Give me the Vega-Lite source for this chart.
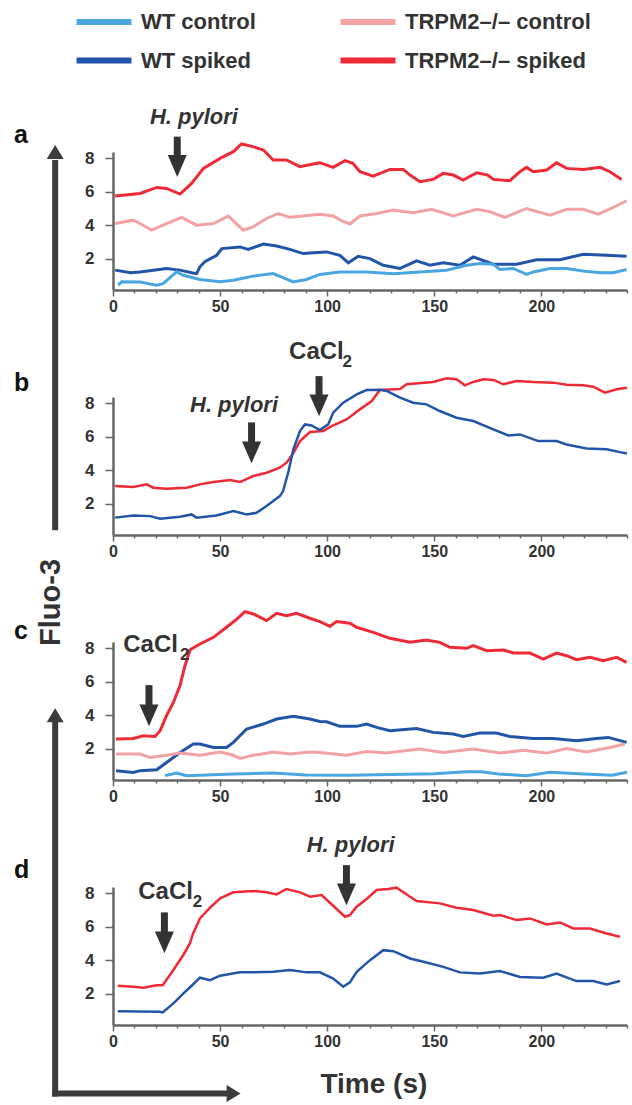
{
"$schema": "https://vega.github.io/schema/vega-lite/v6.json",
"padding": {"left": 14, "top": 5, "right": 0, "bottom": 0},
"bounds": "flush",
"spacing": 107,
"config": {
 "font": "Liberation Sans",
 "view": {"stroke": null},
 "axis": {"grid": false, "title": null, "tickCount": 100, "domainColor": "#666", "domainWidth": 2.5, "tickColor": "#666", "tickWidth": 1.5, "labelFont": "Liberation Sans", "labelFontWeight": "bold", "labelColor": "#333", "labelFlush": false, "labelOverlap": false, "labelBound": false},
 "axisX": {"labelFontSize": 16},
 "axisY": {"labelFontSize": 17, "labelPadding": 11},
 "legend": {"symbolType": "M-2,0L2,0", "symbolStrokeWidth": 6, "symbolSize": 756, "labelFontSize": 22, "labelFontWeight": "bold", "labelColor": "#333", "labelFont": "Liberation Sans", "labelOffset": 20, "labelLimit": 400, "columns": 2, "columnPadding": 72, "rowPadding": 9.5, "padding": 0, "orient": "none", "legendX": -26, "legendY": -147, "title": null}
},
"datasets": {
 "a": [
  {"time":1,"fluo":5.74,"series":"TRPM2–/– spiked"},{"time":12.6,"fluo":5.9,"series":"TRPM2–/– spiked"},{"time":20.4,"fluo":6.26,"series":"TRPM2–/– spiked"},{"time":25,"fluo":6.2,"series":"TRPM2–/– spiked"},{"time":31.3,"fluo":5.86,"series":"TRPM2–/– spiked"},{"time":36.7,"fluo":6.5,"series":"TRPM2–/– spiked"},{"time":42.2,"fluo":7.4,"series":"TRPM2–/– spiked"},{"time":50,"fluo":8.0,"series":"TRPM2–/– spiked"},{"time":56.2,"fluo":8.4,"series":"TRPM2–/– spiked"},{"time":60,"fluo":8.86,"series":"TRPM2–/– spiked"},{"time":65.4,"fluo":8.7,"series":"TRPM2–/– spiked"},{"time":70.2,"fluo":8.5,"series":"TRPM2–/– spiked"},{"time":74.8,"fluo":7.9,"series":"TRPM2–/– spiked"},{"time":81,"fluo":7.9,"series":"TRPM2–/– spiked"},{"time":87.3,"fluo":7.5,"series":"TRPM2–/– spiked"},{"time":93.5,"fluo":7.66,"series":"TRPM2–/– spiked"},{"time":96.6,"fluo":7.74,"series":"TRPM2–/– spiked"},{"time":102.8,"fluo":7.46,"series":"TRPM2–/– spiked"},{"time":108.3,"fluo":7.86,"series":"TRPM2–/– spiked"},{"time":112,"fluo":7.7,"series":"TRPM2–/– spiked"},{"time":115.3,"fluo":7.2,"series":"TRPM2–/– spiked"},{"time":121.5,"fluo":6.94,"series":"TRPM2–/– spiked"},{"time":129.3,"fluo":7.34,"series":"TRPM2–/– spiked"},{"time":135.5,"fluo":7.34,"series":"TRPM2–/– spiked"},{"time":138.7,"fluo":7.0,"series":"TRPM2–/– spiked"},{"time":143.3,"fluo":6.6,"series":"TRPM2–/– spiked"},{"time":149.5,"fluo":6.74,"series":"TRPM2–/– spiked"},{"time":154.2,"fluo":7.1,"series":"TRPM2–/– spiked"},{"time":158.9,"fluo":7.0,"series":"TRPM2–/– spiked"},{"time":163.5,"fluo":6.7,"series":"TRPM2–/– spiked"},{"time":169.8,"fluo":7.14,"series":"TRPM2–/– spiked"},{"time":175,"fluo":7.0,"series":"TRPM2–/– spiked"},{"time":177.6,"fluo":6.74,"series":"TRPM2–/– spiked"},{"time":185.3,"fluo":6.66,"series":"TRPM2–/– spiked"},{"time":190,"fluo":7.2,"series":"TRPM2–/– spiked"},{"time":193.1,"fluo":7.46,"series":"TRPM2–/– spiked"},{"time":196.2,"fluo":7.2,"series":"TRPM2–/– spiked"},{"time":202.5,"fluo":7.3,"series":"TRPM2–/– spiked"},{"time":207.1,"fluo":7.74,"series":"TRPM2–/– spiked"},{"time":211.8,"fluo":7.4,"series":"TRPM2–/– spiked"},{"time":219.6,"fluo":7.34,"series":"TRPM2–/– spiked"},{"time":227.4,"fluo":7.46,"series":"TRPM2–/– spiked"},{"time":232,"fluo":7.2,"series":"TRPM2–/– spiked"},{"time":237.5,"fluo":6.74,"series":"TRPM2–/– spiked"},
  {"time":1,"fluo":4.1,"series":"TRPM2–/– control"},{"time":9.5,"fluo":4.3,"series":"TRPM2–/– control"},{"time":12.6,"fluo":4.1,"series":"TRPM2–/– control"},{"time":18,"fluo":3.7,"series":"TRPM2–/– control"},{"time":23.4,"fluo":4.0,"series":"TRPM2–/– control"},{"time":32,"fluo":4.47,"series":"TRPM2–/– control"},{"time":39,"fluo":4.0,"series":"TRPM2–/– control"},{"time":47,"fluo":4.1,"series":"TRPM2–/– control"},{"time":53.8,"fluo":4.55,"series":"TRPM2–/– control"},{"time":60.8,"fluo":3.7,"series":"TRPM2–/– control"},{"time":65.4,"fluo":3.9,"series":"TRPM2–/– control"},{"time":71.7,"fluo":4.4,"series":"TRPM2–/– control"},{"time":77.2,"fluo":4.7,"series":"TRPM2–/– control"},{"time":82.6,"fluo":4.47,"series":"TRPM2–/– control"},{"time":88.8,"fluo":4.55,"series":"TRPM2–/– control"},{"time":96.6,"fluo":4.66,"series":"TRPM2–/– control"},{"time":102.8,"fluo":4.55,"series":"TRPM2–/– control"},{"time":106.7,"fluo":4.27,"series":"TRPM2–/– control"},{"time":110.6,"fluo":4.07,"series":"TRPM2–/– control"},{"time":115.3,"fluo":4.55,"series":"TRPM2–/– control"},{"time":123.1,"fluo":4.7,"series":"TRPM2–/– control"},{"time":130.9,"fluo":4.9,"series":"TRPM2–/– control"},{"time":140.2,"fluo":4.75,"series":"TRPM2–/– control"},{"time":148.8,"fluo":4.95,"series":"TRPM2–/– control"},{"time":158.9,"fluo":4.55,"series":"TRPM2–/– control"},{"time":169.8,"fluo":4.95,"series":"TRPM2–/– control"},{"time":176,"fluo":4.8,"series":"TRPM2–/– control"},{"time":183,"fluo":4.47,"series":"TRPM2–/– control"},{"time":193.1,"fluo":5.0,"series":"TRPM2–/– control"},{"time":204,"fluo":4.6,"series":"TRPM2–/– control"},{"time":211.8,"fluo":4.95,"series":"TRPM2–/– control"},{"time":219.6,"fluo":4.95,"series":"TRPM2–/– control"},{"time":226.6,"fluo":4.66,"series":"TRPM2–/– control"},{"time":233.6,"fluo":5.06,"series":"TRPM2–/– control"},{"time":239.8,"fluo":5.46,"series":"TRPM2–/– control"},
  {"time":1,"fluo":1.31,"series":"WT spiked"},{"time":8.2,"fluo":1.15,"series":"WT spiked"},{"time":12.6,"fluo":1.2,"series":"WT spiked"},{"time":25,"fluo":1.41,"series":"WT spiked"},{"time":31.3,"fluo":1.31,"series":"WT spiked"},{"time":36.7,"fluo":1.15,"series":"WT spiked"},{"time":39,"fluo":1.1,"series":"WT spiked"},{"time":40.6,"fluo":1.51,"series":"WT spiked"},{"time":42.9,"fluo":1.81,"series":"WT spiked"},{"time":48.4,"fluo":2.2,"series":"WT spiked"},{"time":50.8,"fluo":2.6,"series":"WT spiked"},{"time":59.3,"fluo":2.7,"series":"WT spiked"},{"time":63.1,"fluo":2.55,"series":"WT spiked"},{"time":70.2,"fluo":2.87,"series":"WT spiked"},{"time":76.4,"fluo":2.75,"series":"WT spiked"},{"time":82.6,"fluo":2.55,"series":"WT spiked"},{"time":88.8,"fluo":2.3,"series":"WT spiked"},{"time":93.5,"fluo":2.35,"series":"WT spiked"},{"time":99.7,"fluo":2.4,"series":"WT spiked"},{"time":105.9,"fluo":2.2,"series":"WT spiked"},{"time":109.9,"fluo":1.75,"series":"WT spiked"},{"time":114.5,"fluo":2.14,"series":"WT spiked"},{"time":120,"fluo":2.0,"series":"WT spiked"},{"time":126.2,"fluo":1.6,"series":"WT spiked"},{"time":134,"fluo":1.41,"series":"WT spiked"},{"time":141.8,"fluo":1.87,"series":"WT spiked"},{"time":148,"fluo":1.6,"series":"WT spiked"},{"time":154.2,"fluo":1.75,"series":"WT spiked"},{"time":162,"fluo":1.6,"series":"WT spiked"},{"time":168.2,"fluo":2.1,"series":"WT spiked"},{"time":174.4,"fluo":1.81,"series":"WT spiked"},{"time":177.5,"fluo":1.66,"series":"WT spiked"},{"time":188.5,"fluo":1.66,"series":"WT spiked"},{"time":197.8,"fluo":1.93,"series":"WT spiked"},{"time":208.7,"fluo":1.93,"series":"WT spiked"},{"time":219.6,"fluo":2.26,"series":"WT spiked"},{"time":230.5,"fluo":2.2,"series":"WT spiked"},{"time":239.8,"fluo":2.14,"series":"WT spiked"},
  {"time":2.5,"fluo":0.41,"series":"WT control"},{"time":4,"fluo":0.61,"series":"WT control"},{"time":12.6,"fluo":0.6,"series":"WT control"},{"time":20.4,"fluo":0.41,"series":"WT control"},{"time":23.4,"fluo":0.5,"series":"WT control"},{"time":29.7,"fluo":1.21,"series":"WT control"},{"time":32.8,"fluo":1.0,"series":"WT control"},{"time":40.6,"fluo":0.75,"series":"WT control"},{"time":50,"fluo":0.61,"series":"WT control"},{"time":56.2,"fluo":0.7,"series":"WT control"},{"time":65.4,"fluo":0.95,"series":"WT control"},{"time":74.8,"fluo":1.1,"series":"WT control"},{"time":79.4,"fluo":0.86,"series":"WT control"},{"time":84.1,"fluo":0.6,"series":"WT control"},{"time":90.3,"fluo":0.75,"series":"WT control"},{"time":96.6,"fluo":1.05,"series":"WT control"},{"time":105.9,"fluo":1.2,"series":"WT control"},{"time":118.4,"fluo":1.2,"series":"WT control"},{"time":130.9,"fluo":1.1,"series":"WT control"},{"time":143.3,"fluo":1.2,"series":"WT control"},{"time":155.7,"fluo":1.3,"series":"WT control"},{"time":165.1,"fluo":1.6,"series":"WT control"},{"time":171.4,"fluo":1.71,"series":"WT control"},{"time":177.6,"fluo":1.66,"series":"WT control"},{"time":180.7,"fluo":1.35,"series":"WT control"},{"time":186.9,"fluo":1.41,"series":"WT control"},{"time":193.1,"fluo":1.05,"series":"WT control"},{"time":196.2,"fluo":1.2,"series":"WT control"},{"time":204,"fluo":1.41,"series":"WT control"},{"time":211.8,"fluo":1.41,"series":"WT control"},{"time":219.6,"fluo":1.26,"series":"WT control"},{"time":227.4,"fluo":1.15,"series":"WT control"},{"time":233.6,"fluo":1.15,"series":"WT control"},{"time":239.8,"fluo":1.35,"series":"WT control"}
 ],
 "b": [
  {"time":1,"fluo":3.05,"series":"TRPM2–/– spiked"},{"time":9.5,"fluo":3.0,"series":"TRPM2–/– spiked"},{"time":15.7,"fluo":3.15,"series":"TRPM2–/– spiked"},{"time":18.8,"fluo":2.95,"series":"TRPM2–/– spiked"},{"time":25,"fluo":2.89,"series":"TRPM2–/– spiked"},{"time":34.4,"fluo":2.95,"series":"TRPM2–/– spiked"},{"time":40.6,"fluo":3.15,"series":"TRPM2–/– spiked"},{"time":46.9,"fluo":3.29,"series":"TRPM2–/– spiked"},{"time":54.7,"fluo":3.41,"series":"TRPM2–/– spiked"},{"time":59.3,"fluo":3.29,"series":"TRPM2–/– spiked"},{"time":65.5,"fluo":3.65,"series":"TRPM2–/– spiked"},{"time":71.7,"fluo":3.85,"series":"TRPM2–/– spiked"},{"time":77.9,"fluo":4.15,"series":"TRPM2–/– spiked"},{"time":81,"fluo":4.45,"series":"TRPM2–/– spiked"},{"time":84.1,"fluo":5.0,"series":"TRPM2–/– spiked"},{"time":87.3,"fluo":5.74,"series":"TRPM2–/– spiked"},{"time":92,"fluo":6.28,"series":"TRPM2–/– spiked"},{"time":98.2,"fluo":6.34,"series":"TRPM2–/– spiked"},{"time":102.1,"fluo":6.64,"series":"TRPM2–/– spiked"},{"time":109.1,"fluo":7.04,"series":"TRPM2–/– spiked"},{"time":115.3,"fluo":7.64,"series":"TRPM2–/– spiked"},{"time":120.8,"fluo":8.14,"series":"TRPM2–/– spiked"},{"time":124.6,"fluo":8.8,"series":"TRPM2–/– spiked"},{"time":134,"fluo":8.86,"series":"TRPM2–/– spiked"},{"time":137.1,"fluo":9.14,"series":"TRPM2–/– spiked"},{"time":149.5,"fluo":9.28,"series":"TRPM2–/– spiked"},{"time":155.8,"fluo":9.5,"series":"TRPM2–/– spiked"},{"time":160.4,"fluo":9.44,"series":"TRPM2–/– spiked"},{"time":164.3,"fluo":9.08,"series":"TRPM2–/– spiked"},{"time":168.2,"fluo":9.28,"series":"TRPM2–/– spiked"},{"time":172.9,"fluo":9.44,"series":"TRPM2–/– spiked"},{"time":177.6,"fluo":9.4,"series":"TRPM2–/– spiked"},{"time":182.3,"fluo":9.14,"series":"TRPM2–/– spiked"},{"time":188.5,"fluo":9.34,"series":"TRPM2–/– spiked"},{"time":196.2,"fluo":9.28,"series":"TRPM2–/– spiked"},{"time":205.6,"fluo":9.24,"series":"TRPM2–/– spiked"},{"time":211.8,"fluo":9.12,"series":"TRPM2–/– spiked"},{"time":219.6,"fluo":9.08,"series":"TRPM2–/– spiked"},{"time":224.2,"fluo":9.0,"series":"TRPM2–/– spiked"},{"time":229.7,"fluo":8.64,"series":"TRPM2–/– spiked"},{"time":235.2,"fluo":8.84,"series":"TRPM2–/– spiked"},{"time":240,"fluo":8.94,"series":"TRPM2–/– spiked"},
  {"time":1,"fluo":1.16,"series":"WT spiked"},{"time":9.5,"fluo":1.29,"series":"WT spiked"},{"time":17.3,"fluo":1.25,"series":"WT spiked"},{"time":22,"fluo":1.1,"series":"WT spiked"},{"time":31.3,"fluo":1.21,"series":"WT spiked"},{"time":36.7,"fluo":1.35,"series":"WT spiked"},{"time":39,"fluo":1.16,"series":"WT spiked"},{"time":48.3,"fluo":1.29,"series":"WT spiked"},{"time":56.2,"fluo":1.55,"series":"WT spiked"},{"time":62.4,"fluo":1.35,"series":"WT spiked"},{"time":67,"fluo":1.45,"series":"WT spiked"},{"time":71.7,"fluo":1.85,"series":"WT spiked"},{"time":77.9,"fluo":2.45,"series":"WT spiked"},{"time":79.4,"fluo":2.75,"series":"WT spiked"},{"time":81.8,"fluo":3.85,"series":"WT spiked"},{"time":84.2,"fluo":5.25,"series":"WT spiked"},{"time":87.3,"fluo":6.34,"series":"WT spiked"},{"time":89.6,"fluo":6.74,"series":"WT spiked"},{"time":92.7,"fluo":6.68,"series":"WT spiked"},{"time":96.6,"fluo":6.4,"series":"WT spiked"},{"time":100.5,"fluo":6.74,"series":"WT spiked"},{"time":102.8,"fluo":7.44,"series":"WT spiked"},{"time":107.5,"fluo":8.04,"series":"WT spiked"},{"time":113.8,"fluo":8.54,"series":"WT spiked"},{"time":118.4,"fluo":8.8,"series":"WT spiked"},{"time":124.6,"fluo":8.82,"series":"WT spiked"},{"time":127.8,"fluo":8.74,"series":"WT spiked"},{"time":134,"fluo":8.34,"series":"WT spiked"},{"time":140.2,"fluo":8.04,"series":"WT spiked"},{"time":146.4,"fluo":7.94,"series":"WT spiked"},{"time":152.6,"fluo":7.54,"series":"WT spiked"},{"time":160.4,"fluo":7.14,"series":"WT spiked"},{"time":168.2,"fluo":6.94,"series":"WT spiked"},{"time":177.6,"fluo":6.44,"series":"WT spiked"},{"time":184.6,"fluo":6.08,"series":"WT spiked"},{"time":190,"fluo":6.14,"series":"WT spiked"},{"time":198.6,"fluo":5.74,"series":"WT spiked"},{"time":207.1,"fluo":5.74,"series":"WT spiked"},{"time":211.8,"fluo":5.54,"series":"WT spiked"},{"time":221.1,"fluo":5.3,"series":"WT spiked"},{"time":230.5,"fluo":5.25,"series":"WT spiked"},{"time":236.7,"fluo":5.08,"series":"WT spiked"},{"time":240,"fluo":5.0,"series":"WT spiked"}
 ],
 "c": [
  {"time":1.4,"fluo":2.57,"series":"TRPM2–/– spiked"},{"time":9.5,"fluo":2.6,"series":"TRPM2–/– spiked"},{"time":14.2,"fluo":2.77,"series":"TRPM2–/– spiked"},{"time":19.6,"fluo":2.73,"series":"TRPM2–/– spiked"},{"time":22,"fluo":3.07,"series":"TRPM2–/– spiked"},{"time":25,"fluo":3.97,"series":"TRPM2–/– spiked"},{"time":28.2,"fluo":4.77,"series":"TRPM2–/– spiked"},{"time":31.3,"fluo":5.77,"series":"TRPM2–/– spiked"},{"time":33.6,"fluo":6.96,"series":"TRPM2–/– spiked"},{"time":36,"fluo":7.92,"series":"TRPM2–/– spiked"},{"time":40.6,"fluo":8.26,"series":"TRPM2–/– spiked"},{"time":46.9,"fluo":8.66,"series":"TRPM2–/– spiked"},{"time":53,"fluo":9.26,"series":"TRPM2–/– spiked"},{"time":57.8,"fluo":9.75,"series":"TRPM2–/– spiked"},{"time":61.6,"fluo":10.2,"series":"TRPM2–/– spiked"},{"time":65.5,"fluo":10.06,"series":"TRPM2–/– spiked"},{"time":71.7,"fluo":9.66,"series":"TRPM2–/– spiked"},{"time":76.4,"fluo":10.1,"series":"TRPM2–/– spiked"},{"time":81,"fluo":9.96,"series":"TRPM2–/– spiked"},{"time":85.7,"fluo":10.1,"series":"TRPM2–/– spiked"},{"time":91.9,"fluo":9.8,"series":"TRPM2–/– spiked"},{"time":96.6,"fluo":9.6,"series":"TRPM2–/– spiked"},{"time":101.3,"fluo":9.32,"series":"TRPM2–/– spiked"},{"time":104.4,"fluo":9.6,"series":"TRPM2–/– spiked"},{"time":110.6,"fluo":9.5,"series":"TRPM2–/– spiked"},{"time":113.7,"fluo":9.26,"series":"TRPM2–/– spiked"},{"time":121.5,"fluo":8.96,"series":"TRPM2–/– spiked"},{"time":129.3,"fluo":8.6,"series":"TRPM2–/– spiked"},{"time":138.7,"fluo":8.36,"series":"TRPM2–/– spiked"},{"time":146.4,"fluo":8.5,"series":"TRPM2–/– spiked"},{"time":152.6,"fluo":8.36,"series":"TRPM2–/– spiked"},{"time":157.3,"fluo":8.06,"series":"TRPM2–/– spiked"},{"time":165.1,"fluo":8.0,"series":"TRPM2–/– spiked"},{"time":168.2,"fluo":8.16,"series":"TRPM2–/– spiked"},{"time":174.5,"fluo":7.86,"series":"TRPM2–/– spiked"},{"time":182.3,"fluo":7.9,"series":"TRPM2–/– spiked"},{"time":186.9,"fluo":7.72,"series":"TRPM2–/– spiked"},{"time":194.7,"fluo":7.72,"series":"TRPM2–/– spiked"},{"time":200.9,"fluo":7.36,"series":"TRPM2–/– spiked"},{"time":207.1,"fluo":7.72,"series":"TRPM2–/– spiked"},{"time":211.8,"fluo":7.56,"series":"TRPM2–/– spiked"},{"time":216.4,"fluo":7.32,"series":"TRPM2–/– spiked"},{"time":222.7,"fluo":7.46,"series":"TRPM2–/– spiked"},{"time":228.9,"fluo":7.26,"series":"TRPM2–/– spiked"},{"time":235.2,"fluo":7.46,"series":"TRPM2–/– spiked"},{"time":239.8,"fluo":7.16,"series":"TRPM2–/– spiked"},
  {"time":1.4,"fluo":0.68,"series":"WT spiked"},{"time":9.5,"fluo":0.57,"series":"WT spiked"},{"time":12.6,"fluo":0.68,"series":"WT spiked"},{"time":20.4,"fluo":0.73,"series":"WT spiked"},{"time":25,"fluo":1.17,"series":"WT spiked"},{"time":31.3,"fluo":1.77,"series":"WT spiked"},{"time":37.5,"fluo":2.27,"series":"WT spiked"},{"time":40.6,"fluo":2.27,"series":"WT spiked"},{"time":46.9,"fluo":2.07,"series":"WT spiked"},{"time":53,"fluo":2.07,"series":"WT spiked"},{"time":56.2,"fluo":2.37,"series":"WT spiked"},{"time":62.4,"fluo":3.17,"series":"WT spiked"},{"time":70.2,"fluo":3.47,"series":"WT spiked"},{"time":76.4,"fluo":3.77,"series":"WT spiked"},{"time":84.2,"fluo":3.93,"series":"WT spiked"},{"time":91.9,"fluo":3.77,"series":"WT spiked"},{"time":96.6,"fluo":3.62,"series":"WT spiked"},{"time":99.7,"fluo":3.6,"series":"WT spiked"},{"time":106,"fluo":3.33,"series":"WT spiked"},{"time":113.7,"fluo":3.33,"series":"WT spiked"},{"time":118.4,"fluo":3.47,"series":"WT spiked"},{"time":123.1,"fluo":3.27,"series":"WT spiked"},{"time":129.3,"fluo":3.07,"series":"WT spiked"},{"time":141.8,"fluo":3.2,"series":"WT spiked"},{"time":149.5,"fluo":2.97,"series":"WT spiked"},{"time":158.9,"fluo":2.87,"series":"WT spiked"},{"time":163.5,"fluo":2.73,"series":"WT spiked"},{"time":171.3,"fluo":2.93,"series":"WT spiked"},{"time":179,"fluo":2.93,"series":"WT spiked"},{"time":185.3,"fluo":2.73,"series":"WT spiked"},{"time":196.2,"fluo":2.61,"series":"WT spiked"},{"time":205.6,"fluo":2.61,"series":"WT spiked"},{"time":216.4,"fluo":2.47,"series":"WT spiked"},{"time":225.8,"fluo":2.61,"series":"WT spiked"},{"time":231.2,"fluo":2.67,"series":"WT spiked"},{"time":239.8,"fluo":2.37,"series":"WT spiked"},
  {"time":1.4,"fluo":1.67,"series":"TRPM2–/– control"},{"time":12.6,"fluo":1.67,"series":"TRPM2–/– control"},{"time":17.3,"fluo":1.47,"series":"TRPM2–/– control"},{"time":25,"fluo":1.6,"series":"TRPM2–/– control"},{"time":31.3,"fluo":1.73,"series":"TRPM2–/– control"},{"time":40.6,"fluo":1.6,"series":"TRPM2–/– control"},{"time":50,"fluo":1.8,"series":"TRPM2–/– control"},{"time":56.2,"fluo":1.6,"series":"TRPM2–/– control"},{"time":59.3,"fluo":1.41,"series":"TRPM2–/– control"},{"time":65.5,"fluo":1.6,"series":"TRPM2–/– control"},{"time":74.8,"fluo":1.8,"series":"TRPM2–/– control"},{"time":82.6,"fluo":1.67,"series":"TRPM2–/– control"},{"time":91.9,"fluo":1.8,"series":"TRPM2–/– control"},{"time":96.6,"fluo":1.77,"series":"TRPM2–/– control"},{"time":109.1,"fluo":1.6,"series":"TRPM2–/– control"},{"time":118.4,"fluo":1.83,"series":"TRPM2–/– control"},{"time":127.7,"fluo":1.73,"series":"TRPM2–/– control"},{"time":143.3,"fluo":1.97,"series":"TRPM2–/– control"},{"time":154.2,"fluo":1.77,"series":"TRPM2–/– control"},{"time":168.2,"fluo":1.97,"series":"TRPM2–/– control"},{"time":180.7,"fluo":1.73,"series":"TRPM2–/– control"},{"time":191.6,"fluo":1.9,"series":"TRPM2–/– control"},{"time":202.5,"fluo":1.73,"series":"TRPM2–/– control"},{"time":211.8,"fluo":2.0,"series":"TRPM2–/– control"},{"time":221.1,"fluo":1.8,"series":"TRPM2–/– control"},{"time":232,"fluo":2.07,"series":"TRPM2–/– control"},{"time":239,"fluo":2.27,"series":"TRPM2–/– control"},
  {"time":24.3,"fluo":0.38,"series":"WT control"},{"time":29.7,"fluo":0.54,"series":"WT control"},{"time":34.4,"fluo":0.38,"series":"WT control"},{"time":56.2,"fluo":0.48,"series":"WT control"},{"time":74.8,"fluo":0.54,"series":"WT control"},{"time":90,"fluo":0.42,"series":"WT control"},{"time":110,"fluo":0.4,"series":"WT control"},{"time":130,"fluo":0.45,"series":"WT control"},{"time":150,"fluo":0.5,"series":"WT control"},{"time":165,"fluo":0.62,"series":"WT control"},{"time":172,"fluo":0.62,"series":"WT control"},{"time":180,"fluo":0.48,"series":"WT control"},{"time":193,"fluo":0.38,"series":"WT control"},{"time":204,"fluo":0.58,"series":"WT control"},{"time":220,"fluo":0.48,"series":"WT control"},{"time":233,"fluo":0.4,"series":"WT control"},{"time":240,"fluo":0.58,"series":"WT control"}
 ],
 "d": [
  {"time":2.2,"fluo":2.47,"series":"TRPM2–/– spiked"},{"time":9.5,"fluo":2.41,"series":"TRPM2–/– spiked"},{"time":14.2,"fluo":2.35,"series":"TRPM2–/– spiked"},{"time":20.4,"fluo":2.5,"series":"TRPM2–/– spiked"},{"time":23.2,"fluo":2.5,"series":"TRPM2–/– spiked"},{"time":28.2,"fluo":3.41,"series":"TRPM2–/– spiked"},{"time":32.8,"fluo":4.31,"series":"TRPM2–/– spiked"},{"time":35.9,"fluo":5.0,"series":"TRPM2–/– spiked"},{"time":37.4,"fluo":5.6,"series":"TRPM2–/– spiked"},{"time":40.6,"fluo":6.5,"series":"TRPM2–/– spiked"},{"time":45.3,"fluo":7.14,"series":"TRPM2–/– spiked"},{"time":50,"fluo":7.7,"series":"TRPM2–/– spiked"},{"time":56.2,"fluo":8.06,"series":"TRPM2–/– spiked"},{"time":65.5,"fluo":8.14,"series":"TRPM2–/– spiked"},{"time":71.7,"fluo":8.06,"series":"TRPM2–/– spiked"},{"time":76.4,"fluo":7.94,"series":"TRPM2–/– spiked"},{"time":81,"fluo":8.26,"series":"TRPM2–/– spiked"},{"time":87.3,"fluo":8.06,"series":"TRPM2–/– spiked"},{"time":92,"fluo":7.8,"series":"TRPM2–/– spiked"},{"time":97.4,"fluo":7.9,"series":"TRPM2–/– spiked"},{"time":102.8,"fluo":7.26,"series":"TRPM2–/– spiked"},{"time":108.3,"fluo":6.6,"series":"TRPM2–/– spiked"},{"time":110.6,"fluo":6.7,"series":"TRPM2–/– spiked"},{"time":113.8,"fluo":7.2,"series":"TRPM2–/– spiked"},{"time":118.4,"fluo":7.66,"series":"TRPM2–/– spiked"},{"time":123.1,"fluo":8.2,"series":"TRPM2–/– spiked"},{"time":128.5,"fluo":8.26,"series":"TRPM2–/– spiked"},{"time":132.4,"fluo":8.34,"series":"TRPM2–/– spiked"},{"time":138.7,"fluo":7.8,"series":"TRPM2–/– spiked"},{"time":141.8,"fluo":7.54,"series":"TRPM2–/– spiked"},{"time":152.6,"fluo":7.4,"series":"TRPM2–/– spiked"},{"time":160.4,"fluo":7.14,"series":"TRPM2–/– spiked"},{"time":168.2,"fluo":7.0,"series":"TRPM2–/– spiked"},{"time":177.6,"fluo":6.66,"series":"TRPM2–/– spiked"},{"time":180.7,"fluo":6.7,"series":"TRPM2–/– spiked"},{"time":188.5,"fluo":6.4,"series":"TRPM2–/– spiked"},{"time":194.7,"fluo":6.5,"series":"TRPM2–/– spiked"},{"time":202.5,"fluo":6.14,"series":"TRPM2–/– spiked"},{"time":208.7,"fluo":6.26,"series":"TRPM2–/– spiked"},{"time":214.9,"fluo":5.9,"series":"TRPM2–/– spiked"},{"time":222.7,"fluo":5.9,"series":"TRPM2–/– spiked"},{"time":230.5,"fluo":5.6,"series":"TRPM2–/– spiked"},{"time":236.7,"fluo":5.4,"series":"TRPM2–/– spiked"},
  {"time":2.2,"fluo":0.95,"series":"WT spiked"},{"time":21.8,"fluo":0.91,"series":"WT spiked"},{"time":23.2,"fluo":0.87,"series":"WT spiked"},{"time":28.2,"fluo":1.41,"series":"WT spiked"},{"time":32.8,"fluo":2.0,"series":"WT spiked"},{"time":36.7,"fluo":2.47,"series":"WT spiked"},{"time":40.6,"fluo":2.95,"series":"WT spiked"},{"time":45.3,"fluo":2.8,"series":"WT spiked"},{"time":50,"fluo":3.07,"series":"WT spiked"},{"time":59.3,"fluo":3.27,"series":"WT spiked"},{"time":65.5,"fluo":3.27,"series":"WT spiked"},{"time":74.8,"fluo":3.31,"series":"WT spiked"},{"time":82.6,"fluo":3.41,"series":"WT spiked"},{"time":90.4,"fluo":3.27,"series":"WT spiked"},{"time":96.6,"fluo":3.27,"series":"WT spiked"},{"time":102.8,"fluo":2.9,"series":"WT spiked"},{"time":107.5,"fluo":2.41,"series":"WT spiked"},{"time":110.6,"fluo":2.67,"series":"WT spiked"},{"time":113.8,"fluo":3.31,"series":"WT spiked"},{"time":120,"fluo":4.0,"series":"WT spiked"},{"time":126.2,"fluo":4.6,"series":"WT spiked"},{"time":130.9,"fluo":4.54,"series":"WT spiked"},{"time":138.7,"fluo":4.1,"series":"WT spiked"},{"time":146.4,"fluo":3.86,"series":"WT spiked"},{"time":154.2,"fluo":3.6,"series":"WT spiked"},{"time":162,"fluo":3.27,"series":"WT spiked"},{"time":171.3,"fluo":3.2,"series":"WT spiked"},{"time":180.7,"fluo":3.35,"series":"WT spiked"},{"time":190,"fluo":3.0,"series":"WT spiked"},{"time":200.9,"fluo":2.95,"series":"WT spiked"},{"time":207.1,"fluo":3.2,"series":"WT spiked"},{"time":216.4,"fluo":2.75,"series":"WT spiked"},{"time":224.2,"fluo":2.75,"series":"WT spiked"},{"time":230.5,"fluo":2.55,"series":"WT spiked"},{"time":236.7,"fluo":2.75,"series":"WT spiked"}
 ]
},
"vconcat": [
 {
  "width": 514, "height": 138,
  "layer": [
   {"data": {"name": "a"}, "mark": {"type": "line", "strokeWidth": 3},
    "encoding": {
     "x": {"field": "time", "type": "quantitative", "scale": {"domain": [0, 240], "nice": false, "zero": false}, "axis": {"tickCount": 100, "labelOverlap": false, "values": [0,10,20,30,40,50,60,70,80,90,100,110,120,130,140,150,160,170,180,190,200,210,220,230,240], "labelExpr": "datum.value % 50 === 0 ? datum.label : ''", "tickSize": {"condition": {"test": "datum.value % 50 === 0", "value": 6}, "value": 3}}},
     "y": {"field": "fluo", "type": "quantitative", "scale": {"domain": [0.12, 8.38], "nice": false, "zero": false}, "axis": {"values": [2,4,6,8], "format": "d", "tickSize": 8}},
     "color": {"field": "series", "type": "nominal", "scale": {"domain": ["WT control", "WT spiked", "TRPM2–/– control", "TRPM2–/– spiked"], "range": ["#4aa6e0", "#2255a8", "#f2a2a4", "#ee2a36"]}}
    }},
   {"data": {"values": [{}]}, "mark": {"type": "text", "text": "a", "fontSize": 25, "fontWeight": "bold", "color": "#111", "align": "left", "baseline": "alphabetic"}, "encoding": {"x": {"datum": -46.2}, "y": {"datum": 8.92}}},
   {"data": {"values": [{}]}, "mark": {"type": "text", "text": "H. pylori", "fontSize": 22, "fontWeight": "bold", "fontStyle": "italic", "color": "#333", "align": "center", "baseline": "middle"}, "encoding": {"x": {"datum": 37.8}, "y": {"datum": 10.45}}},
   {"data": {"values": [{}]}, "mark": {"type": "rule", "strokeWidth": 7, "color": "#333"}, "encoding": {"x": {"datum": 30}, "y": {"datum": 9.3}, "y2": {"datum": 7.9}}},
   {"data": {"values": [{}]}, "mark": {"type": "point", "shape": "M-1,-1.15L1,-1.15L0,1.15Z", "size": 361, "filled": true, "opacity": 1, "color": "#333"}, "encoding": {"x": {"datum": 30}, "y": {"datum": 7.54}}},
   {"data": {"values": [{}]}, "mark": {"type": "rule", "strokeWidth": 6, "color": "#3c3c3c"}, "encoding": {"x": {"datum": -27}, "y": {"datum": -14.26}, "y2": {"datum": 7.9}}},
   {"data": {"values": [{}]}, "mark": {"type": "point", "shape": "M0,-0.82L-1,0.82L1,0.82Z", "size": 289, "filled": true, "opacity": 1, "color": "#3c3c3c"}, "encoding": {"x": {"datum": -27}, "y": {"datum": 8.38}}}
  ]
 },
 {
  "width": 514, "height": 138,
  "layer": [
   {"data": {"name": "b"}, "mark": {"type": "line", "strokeWidth": 2.5},
    "encoding": {
     "x": {"field": "time", "type": "quantitative", "scale": {"domain": [0, 240], "nice": false, "zero": false}, "axis": {"tickCount": 100, "labelOverlap": false, "values": [0,10,20,30,40,50,60,70,80,90,100,110,120,130,140,150,160,170,180,190,200,210,220,230,240], "labelExpr": "datum.value % 50 === 0 ? datum.label : ''", "tickSize": {"condition": {"test": "datum.value % 50 === 0", "value": 6}, "value": 3}}},
     "y": {"field": "fluo", "type": "quantitative", "scale": {"domain": [0.12, 8.38], "nice": false, "zero": false}, "axis": {"values": [2,4,6,8], "format": "d", "tickSize": 8}},
     "color": {"field": "series", "type": "nominal", "scale": {"domain": ["WT control", "WT spiked", "TRPM2–/– control", "TRPM2–/– spiked"], "range": ["#4aa6e0", "#2255a8", "#f2a2a4", "#ee2a36"]}}
    }},
   {"data": {"values": [{}]}, "mark": {"type": "text", "text": "b", "fontSize": 25, "fontWeight": "bold", "color": "#111", "align": "left", "baseline": "alphabetic"}, "encoding": {"x": {"datum": -46.2}, "y": {"datum": 8.72}}},
   {"data": {"values": [{}]}, "mark": {"type": "text", "text": "H. pylori", "fontSize": 22, "fontWeight": "bold", "fontStyle": "italic", "color": "#333", "align": "center", "baseline": "middle"}, "encoding": {"x": {"datum": 56.5}, "y": {"datum": 7.88}}},
   {"data": {"values": [{}]}, "mark": {"type": "rule", "strokeWidth": 7, "color": "#333"}, "encoding": {"x": {"datum": 64.7}, "y": {"datum": 6.86}, "y2": {"datum": 5.4}}},
   {"data": {"values": [{}]}, "mark": {"type": "point", "shape": "M-1,-1.15L1,-1.15L0,1.15Z", "size": 361, "filled": true, "opacity": 1, "color": "#333"}, "encoding": {"x": {"datum": 64.7}, "y": {"datum": 5.07}}},
   {"data": {"values": [{}]}, "mark": {"type": "text", "text": "CaCl", "fontSize": 24, "fontWeight": "bold", "color": "#333", "align": "left", "baseline": "middle"}, "encoding": {"x": {"datum": 82.2}, "y": {"datum": 11.05}}},
   {"data": {"values": [{}]}, "mark": {"type": "text", "text": "2", "fontSize": 17, "fontWeight": "bold", "color": "#333", "align": "left", "baseline": "middle"}, "encoding": {"x": {"datum": 107.2}, "y": {"datum": 10.46}}},
   {"data": {"values": [{}]}, "mark": {"type": "rule", "strokeWidth": 7, "color": "#333"}, "encoding": {"x": {"datum": 96.2}, "y": {"datum": 9.63}, "y2": {"datum": 8.2}}},
   {"data": {"values": [{}]}, "mark": {"type": "point", "shape": "M-1,-1.15L1,-1.15L0,1.15Z", "size": 361, "filled": true, "opacity": 1, "color": "#333"}, "encoding": {"x": {"datum": 96.2}, "y": {"datum": 7.88}}}
  ]
 },
 {
  "width": 514, "height": 138,
  "layer": [
   {"data": {"name": "c"}, "mark": {"type": "line", "strokeWidth": 3},
    "encoding": {
     "x": {"field": "time", "type": "quantitative", "scale": {"domain": [0, 240], "nice": false, "zero": false}, "axis": {"tickCount": 100, "labelOverlap": false, "values": [0,10,20,30,40,50,60,70,80,90,100,110,120,130,140,150,160,170,180,190,200,210,220,230,240], "labelExpr": "datum.value % 50 === 0 ? datum.label : ''", "tickSize": {"condition": {"test": "datum.value % 50 === 0", "value": 6}, "value": 3}}},
     "y": {"field": "fluo", "type": "quantitative", "scale": {"domain": [0.12, 8.38], "nice": false, "zero": false}, "axis": {"values": [2,4,6,8], "format": "d", "tickSize": 8}},
     "color": {"field": "series", "type": "nominal", "scale": {"domain": ["WT control", "WT spiked", "TRPM2–/– control", "TRPM2–/– spiked"], "range": ["#4aa6e0", "#2255a8", "#f2a2a4", "#ee2a36"]}}
    }},
   {"data": {"values": [{}]}, "mark": {"type": "text", "text": "c", "fontSize": 25, "fontWeight": "bold", "color": "#111", "align": "left", "baseline": "alphabetic"}, "encoding": {"x": {"datum": -46.2}, "y": {"datum": 8.54}}},
   {"data": {"values": [{}]}, "mark": {"type": "text", "text": "Fluo-3", "fontSize": 29, "fontWeight": "bold", "color": "#333", "align": "center", "baseline": "middle", "angle": 270}, "encoding": {"x": {"datum": -28.9}, "y": {"datum": 10.75}}},
   {"data": {"values": [{}]}, "mark": {"type": "text", "text": "CaCl", "fontSize": 24, "fontWeight": "bold", "color": "#333", "align": "left", "baseline": "middle"}, "encoding": {"x": {"datum": 4.8}, "y": {"datum": 8.18}}},
   {"data": {"values": [{}]}, "mark": {"type": "text", "text": "2", "fontSize": 17, "fontWeight": "bold", "color": "#333", "align": "left", "baseline": "middle"}, "encoding": {"x": {"datum": 31.3}, "y": {"datum": 7.58}}},
   {"data": {"values": [{}]}, "mark": {"type": "rule", "strokeWidth": 7, "color": "#333"}, "encoding": {"x": {"datum": 16.8}, "y": {"datum": 5.8}, "y2": {"datum": 4.4}}},
   {"data": {"values": [{}]}, "mark": {"type": "point", "shape": "M-1,-1.15L1,-1.15L0,1.15Z", "size": 361, "filled": true, "opacity": 1, "color": "#333"}, "encoding": {"x": {"datum": 16.8}, "y": {"datum": 3.99}}}
  ]
 },
 {
  "width": 514, "height": 138,
  "layer": [
   {"data": {"name": "d"}, "mark": {"type": "line", "strokeWidth": 2.5},
    "encoding": {
     "x": {"field": "time", "type": "quantitative", "scale": {"domain": [0, 240], "nice": false, "zero": false}, "axis": {"tickCount": 100, "labelOverlap": false, "values": [0,10,20,30,40,50,60,70,80,90,100,110,120,130,140,150,160,170,180,190,200,210,220,230,240], "labelExpr": "datum.value % 50 === 0 ? datum.label : ''", "tickSize": {"condition": {"test": "datum.value % 50 === 0", "value": 6}, "value": 3}}},
     "y": {"field": "fluo", "type": "quantitative", "scale": {"domain": [0.12, 8.38], "nice": false, "zero": false}, "axis": {"values": [2,4,6,8], "format": "d", "tickSize": 8}},
     "color": {"field": "series", "type": "nominal", "scale": {"domain": ["WT control", "WT spiked", "TRPM2–/– control", "TRPM2–/– spiked"], "range": ["#4aa6e0", "#2255a8", "#f2a2a4", "#ee2a36"]}}
    }},
   {"data": {"values": [{}]}, "mark": {"type": "text", "text": "d", "fontSize": 25, "fontWeight": "bold", "color": "#111", "align": "left", "baseline": "alphabetic"}, "encoding": {"x": {"datum": -46.2}, "y": {"datum": 8.9}}},
   {"data": {"values": [{}]}, "mark": {"type": "text", "text": "CaCl", "fontSize": 24, "fontWeight": "bold", "color": "#333", "align": "left", "baseline": "middle"}, "encoding": {"x": {"datum": 11.8}, "y": {"datum": 8.06}}},
   {"data": {"values": [{}]}, "mark": {"type": "text", "text": "2", "fontSize": 17, "fontWeight": "bold", "color": "#333", "align": "left", "baseline": "middle"}, "encoding": {"x": {"datum": 37.2}, "y": {"datum": 7.46}}},
   {"data": {"values": [{}]}, "mark": {"type": "rule", "strokeWidth": 7, "color": "#333"}, "encoding": {"x": {"datum": 24}, "y": {"datum": 6.86}, "y2": {"datum": 5.4}}},
   {"data": {"values": [{}]}, "mark": {"type": "point", "shape": "M-1,-1.15L1,-1.15L0,1.15Z", "size": 361, "filled": true, "opacity": 1, "color": "#333"}, "encoding": {"x": {"datum": 24}, "y": {"datum": 5.07}}},
   {"data": {"values": [{}]}, "mark": {"type": "text", "text": "H. pylori", "fontSize": 22, "fontWeight": "bold", "fontStyle": "italic", "color": "#333", "align": "center", "baseline": "middle"}, "encoding": {"x": {"datum": 111}, "y": {"datum": 10.9}}},
   {"data": {"values": [{}]}, "mark": {"type": "rule", "strokeWidth": 7, "color": "#333"}, "encoding": {"x": {"datum": 109}, "y": {"datum": 9.69}, "y2": {"datum": 8.3}}},
   {"data": {"values": [{}]}, "mark": {"type": "point", "shape": "M-1,-1.15L1,-1.15L0,1.15Z", "size": 361, "filled": true, "opacity": 1, "color": "#333"}, "encoding": {"x": {"datum": 109}, "y": {"datum": 7.94}}},
   {"data": {"values": [{}]}, "mark": {"type": "rule", "strokeWidth": 6, "color": "#3c3c3c"}, "encoding": {"x": {"datum": -27}, "y": {"datum": -4.16}, "y2": {"datum": 18.3}}},
   {"data": {"values": [{}]}, "mark": {"type": "point", "shape": "M0,-0.82L-1,0.82L1,0.82Z", "size": 289, "filled": true, "opacity": 1, "color": "#3c3c3c"}, "encoding": {"x": {"datum": -27}, "y": {"datum": 18.66}}},
   {"data": {"values": [{}]}, "mark": {"type": "rule", "strokeWidth": 6, "color": "#3c3c3c"}, "encoding": {"x": {"datum": -28.4}, "x2": {"datum": 53.5}, "y": {"datum": -3.98}}},
   {"data": {"values": [{}]}, "mark": {"type": "point", "shape": "M0.82,0L-0.82,-1L-0.82,1Z", "size": 289, "filled": true, "opacity": 1, "color": "#3c3c3c"}, "encoding": {"x": {"datum": 56.3}, "y": {"datum": -3.98}}},
   {"data": {"values": [{}]}, "mark": {"type": "text", "text": "Time (s)", "fontSize": 28, "fontWeight": "bold", "color": "#333", "align": "center", "baseline": "middle"}, "encoding": {"x": {"datum": 121.8}, "y": {"datum": -3.5}}}
  ]
 }
]
}
